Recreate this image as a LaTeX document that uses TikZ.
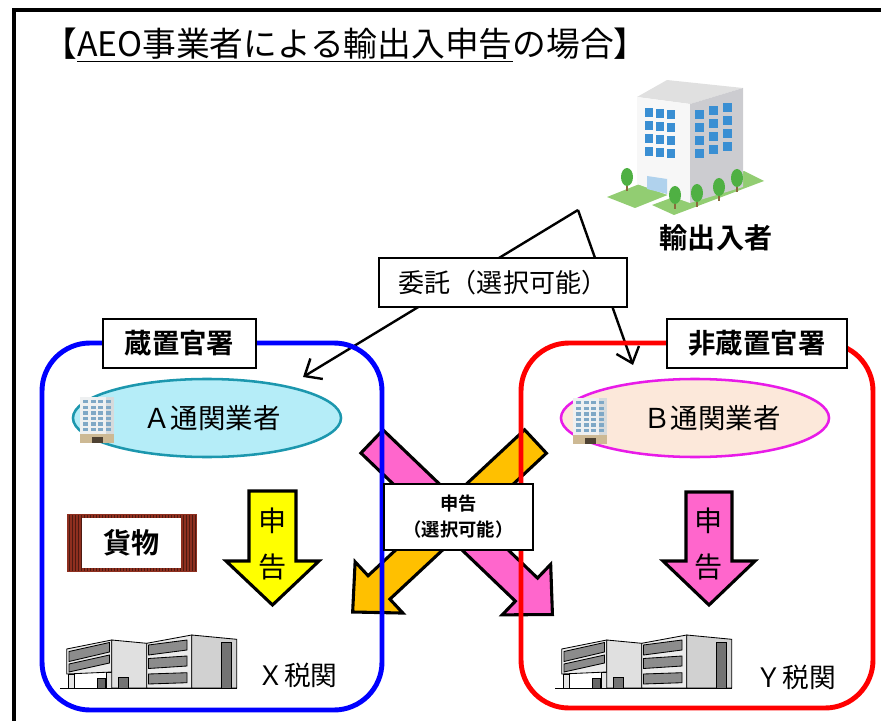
\documentclass[tikz,border=0pt]{standalone}
\usepackage{fontspec}
\setmainfont{Noto Sans CJK JP}[BoldFont={Noto Sans CJK JP Bold}]
\usetikzlibrary{arrows.meta,shapes.geometric}
\definecolor{BondBlue}{HTML}{0000FF}
\definecolor{PlainRed}{HTML}{FF0000}
\definecolor{DeclYellow}{HTML}{FFFF00}
\definecolor{DeclPink}{HTML}{FF66CC}
\definecolor{DeclOrange}{HTML}{FFC000}
\definecolor{ATeal}{HTML}{1C97AE}
\definecolor{ACyan}{HTML}{B5EDF8}
\definecolor{BMagenta}{HTML}{E81BE8}
\definecolor{BPeach}{HTML}{FCE8DA}
\definecolor{Rust}{HTML}{8E2F1F}
\definecolor{Lawn}{HTML}{92CD72}
\definecolor{Leaf}{HTML}{4FB043}
\definecolor{Bark}{HTML}{8A6A3C}
\definecolor{Glass}{HTML}{3A8FD3}
\definecolor{IconWall}{HTML}{EEF0F1}
\definecolor{IconShade}{HTML}{D6DADC}
\definecolor{IconWindow}{HTML}{7FA8C6}
\definecolor{IconBase}{HTML}{CDB994}
\definecolor{IconDoor}{HTML}{4E4132}

\tikzset{
  % small company icon, 34 x 46 px, origin at its top left
  officeicon/.pic={
    \fill[IconWall] (0,0) rectangle (34,37);
    \fill[IconShade] (26,0) rectangle (34,37);
    \foreach \c in {0,...,3}{
      \foreach \r in {0,...,5}{
        \fill[IconWindow] ({3+\c*7.5},{3+\r*5.6}) rectangle ++(5,3.4);
      }
    }
    \fill[IconBase] (0,37) rectangle (34,46);
    \fill[IconDoor] (12,40) rectangle (23,46);
  },
  % customs house, 172 x 53 px, origin at its top left
  taxoffice/.pic={
    \begin{scope}[draw=black,line width=0.6pt]
      \filldraw[fill=black!8] (1.7,14) -- (46.7,5) -- (46.7,37) -- (1.7,39) -- cycle;
      \filldraw[fill=black!45] (4,16.5) -- (44.5,7.5) -- (44.5,17) -- (4,26.5) -- cycle;
      \filldraw[fill=black!45] (4,29) -- (44.5,20) -- (44.5,28) -- (4,37) -- cycle;
      \filldraw[fill=black!10] (3,39) rectangle (9,53);
      \filldraw[fill=black!10] (41,37) rectangle (47,53);
      \filldraw[fill=black!60] (32,43) rectangle (40,53);
      \filldraw[fill=black!12] (46.7,5) -- (81.7,8.3) -- (81.7,53) -- (46.7,53) -- cycle;
      \filldraw[fill=black!55] (53,42) rectangle (63,53);
      \filldraw[fill=black!8] (81.7,8.3) -- (126.7,0) -- (126.7,53) -- (81.7,53) -- cycle;
      \filldraw[fill=black!45] (83.5,10) -- (122,5) -- (122,15) -- (83.5,20) -- cycle;
      \filldraw[fill=black!45] (83.5,23.5) -- (122,21) -- (122,31) -- (83.5,33.5) -- cycle;
      \filldraw[fill=black!45] (83.5,39) -- (122,37.7) -- (122,47.7) -- (83.5,49) -- cycle;
      \filldraw[fill=black!18] (126.7,0) -- (171.7,4.3) -- (171.7,53) -- (126.7,53) -- cycle;
      \filldraw[fill=black!55] (156.7,7.7) rectangle (166.7,53);
      \draw (-5,53.3) -- (172,53.3);
    \end{scope}
  },
}

\begin{document}
\begin{tikzpicture}[x=0.025cm,y=-0.025cm,
  every node/.style={inner sep=0pt},
  tag/.style={draw,fill=white,line width=1pt,minimum height=1.225cm,
    font=\bfseries\fontsize{19.5}{22}\selectfont},
  broker/.style={ellipse,line width=1.8pt,minimum width=6.7cm,minimum height=1.95cm,
    font=\fontsize{19.5}{22}\selectfont},
  office/.style={rounded corners=1.2cm,line width=3.5pt},
  fat/.style={draw=black,line width=2.2pt,line join=miter},
  entrust/.style={-{Straight Barb[length=10pt,width=17pt]},line width=1.7pt},
  vtext/.style={align=center,font=\fontsize{20}{33}\selectfont}]
\path[use as bounding box] (0,0) rectangle (881,721);
\draw[line width=2.2pt] (14,721) -- (14,10) -- (881,10);

\node[anchor=west,font=\fontsize{24}{28}\selectfont] (title) at (43,45)
  {【\underline{AEO事業者による輸出入申告}の場合】};

% exporter building
\fill[Lawn] (607,197) -- (642,183) -- (670,194) -- (635,208) -- cycle;
\fill[Lawn] (652,205) -- (744,171) -- (764,181) -- (674,215) -- cycle;
\fill[black!12] (637,97) -- (667,80) -- (743,88) -- (690,104) -- cycle;
\fill[black!3] (637,97) -- (690,104) -- (690,203) -- (637,184) -- cycle;
\fill[blue!8!black!20] (690,104) -- (743,88) -- (743,187) -- (690,203) -- cycle;
\foreach \c in {0,1,2}{
  \foreach \r in {0,...,3}{
    \fill[Glass] ({645+\c*11},{108+\r*13+\c*1.2}) rectangle ++(8,9);
    \fill[Glass] ({695+\c*14},{110+\r*13-\c*3.5}) rectangle ++(9,9);
  }
}
\fill[Glass!40] (647,176) -- (667,179) -- (667,194) -- (647,189) -- cycle;
\foreach \x/\y in {627/177,675/195,697/193,719/187,737/178}{
  \draw[Bark,line width=1pt] (\x,\y) -- (\x,\y+14);
  \fill[Leaf] (\x,\y) ellipse [x radius=6,y radius=9];
}
\node[font=\bfseries\fontsize{20}{24}\selectfont] (exporter) at (716,238) {輸出入者};

% entrustment
\coordinate (fork) at (578,210);
\coordinate (toA) at (303,377);
\coordinate (toB) at (633,365);
\draw[entrust] (fork) -- (toA);
\draw[entrust] (fork) -- (toB);
\node[tag,font=\fontsize{18.5}{22}\selectfont,minimum width=6.2cm] (consign) at (503,282.5)
  {委託（選択可能）};

% crossed declarations
\begin{scope}[shift={(535.5,441.5)},rotate=-137]
  \draw[fat,fill=DeclOrange] (0,-16) -- (214,-16) -- (214,-35) -- (250,0)
    -- (214,35) -- (214,16) -- (0,16) -- cycle;
\end{scope}
\begin{scope}[shift={(372,441.5)},rotate=-43.8]
  \draw[fat,fill=DeclPink] (0,-16) -- (214,-16) -- (214,-35) -- (250,0)
    -- (214,35) -- (214,16) -- (0,16) -- cycle;
\end{scope}

% offices
\draw[office,draw=BondBlue] (42,343) rectangle (382,710);
\draw[office,draw=PlainRed] (521,343) rectangle (873,708);
\node[tag,minimum width=3.825cm] (bonded) at (179.5,343.5) {蔵置官署};
\node[tag,minimum width=4.5cm] (nonbonded) at (757,343.5) {非蔵置官署};

% brokers
\node[broker,draw=ATeal,fill=ACyan] (brokerA) at (207,418) {\hspace*{7pt}Ａ通関業者};
\pic at (80,397) {officeicon};
\node[broker,draw=BMagenta,fill=BPeach] (brokerB) at (695,418) {\hspace*{24pt}Ｂ通関業者};
\pic at (573,398) {officeicon};

% declarations
\draw[fat,fill=DeclYellow] (249,491) -- (296,491) -- (296,561) -- (319,561)
  -- (272.5,605) -- (226,561) -- (249,561) -- cycle;
\node[vtext] (declA) at (272.5,544) {申\\告};
\draw[fat,fill=DeclPink] (686,492) -- (732,492) -- (732,561) -- (755,561)
  -- (709,605) -- (663,561) -- (686,561) -- cycle;
\node[vtext] (declB) at (709,544) {申\\告};

% cargo
\fill[Rust] (67,514) rectangle (197,572);
\foreach \x in {69,72,...,195}
  \draw[Rust!55!black,line width=0.4pt] (\x,515) -- (\x,571);
\node[fill=white,minimum width=2.475cm,minimum height=1.25cm,
  font=\bfseries\fontsize{20}{24}\selectfont] (cargo) at (131.5,543) {貨物};

% customs
\pic at (65,635) {taxoffice};
\node[font=\fontsize{19}{22}\selectfont] (customsX) at (297.5,675) {Ｘ税関};
\pic at (560,635) {taxoffice};
\node[font=\fontsize{19}{22}\selectfont] (customsY) at (796,677) {Ｙ税関};

\node[draw,fill=white,line width=1pt,align=center,minimum width=3.725cm,minimum height=1.65cm,
  font=\bfseries\fontsize{13}{18.5}\selectfont] (either) at (458.5,517) {申告\\（選択可能）};
\end{tikzpicture}
\end{document}
